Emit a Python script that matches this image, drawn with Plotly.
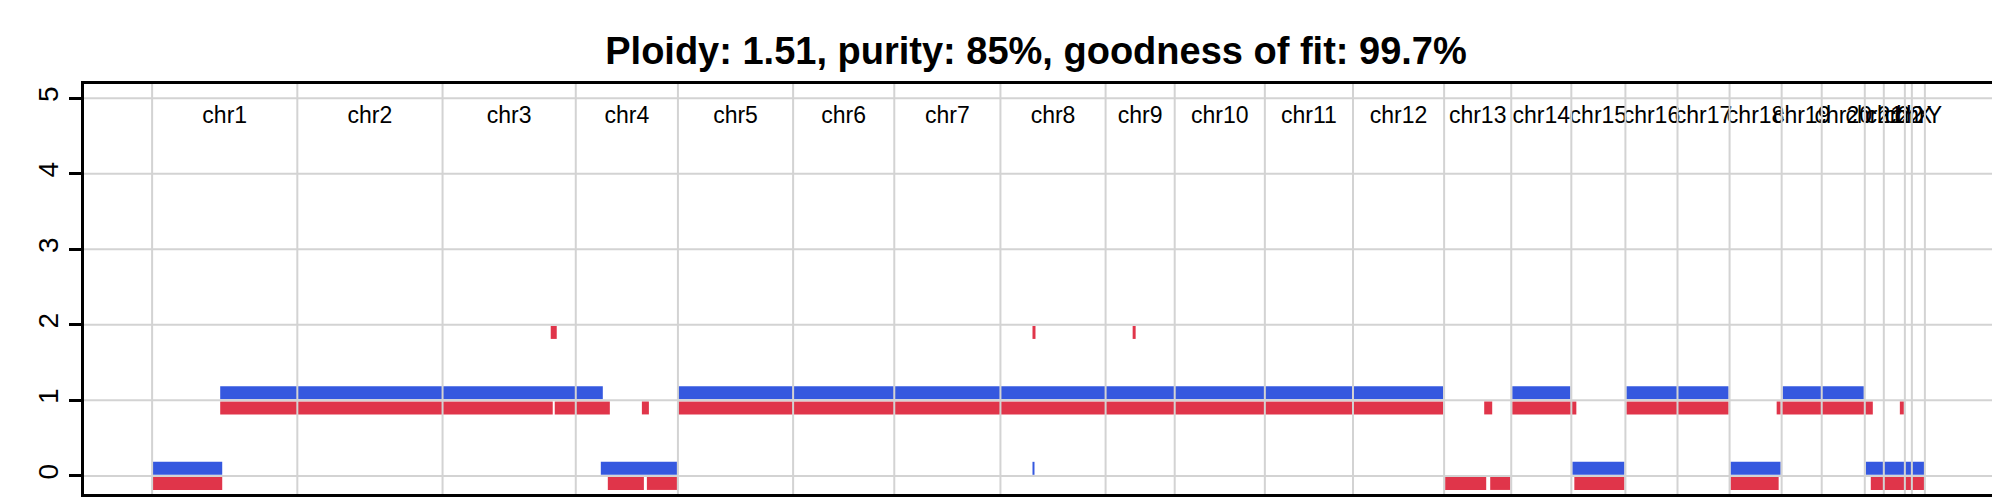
import plotly.graph_objects as go

chrom_names = ["chr1","chr2","chr3","chr4","chr5","chr6","chr7","chr8","chr9","chr10","chr11","chr12",
               "chr13","chr14","chr15","chr16","chr17","chr18","chr19","chr20","chr21","chr22","chrX","chrY"]
# chromosome boundaries (probe index units)
boundaries = [150, 295, 440, 573, 675, 790, 891, 997, 1102, 1171, 1261, 1349,
              1440, 1507, 1567, 1621, 1673, 1725, 1777, 1817, 1860, 1879, 1900, 1907, 1920]

# major allele (blue) segments
blue_start = [150, 218, 598, 675, 1029, 1508, 1568, 1622, 1726, 1778, 1861]
blue_end   = [220, 600, 674, 1439, 1031, 1566, 1620, 1724, 1776, 1859, 1920]
blue_cn    = [0, 1, 0, 1, 0, 1, 0, 1, 0, 1, 0]

# minor allele (red) segments
red_start = [150, 218, 552, 548, 639, 605, 644, 675, 1029, 1129, 1441, 1486, 1480, 1508, 1570, 1622, 1726, 1772, 1777, 1866, 1895]
red_end   = [220, 550, 607, 554, 646, 641, 674, 1439, 1032, 1132, 1482, 1506, 1488, 1572, 1620, 1724, 1774, 1776, 1868, 1920, 1899]
red_cn    = [0, 1, 1, 2, 1, 0, 0, 1, 2, 2, 0, 0, 1, 1, 0, 1, 0, 1, 1, 0, 1]

title = "Ploidy: 1.51, purity: 85%, goodness of fit: 99.7%"
y_ticks = [0, 1, 2, 3, 4, 5]

BLUE = "#3558df"
RED = "#e0354a"
GRID = "#d3d3d3"

def seg_xy(starts, ends, cns, offset):
    xs, ys = [], []
    for s, e, c in zip(starts, ends, cns):
        xs += [s, e, None]
        ys += [c + offset, c + offset, None]
    return xs, ys

fig = go.Figure()
bx, by = seg_xy(blue_start, blue_end, blue_cn, 0.1)
rx, ry = seg_xy(red_start, red_end, red_cn, -0.1)
fig.add_trace(go.Scatter(x=bx, y=by, mode="lines", line=dict(color=BLUE, width=13), hoverinfo="skip"))
fig.add_trace(go.Scatter(x=rx, y=ry, mode="lines", line=dict(color=RED, width=13), hoverinfo="skip"))

shapes = []
for b in boundaries:
    shapes.append(dict(type="line", xref="x", yref="paper", x0=b, x1=b, y0=0, y1=1,
                       line=dict(color=GRID, width=2), layer="above"))
for t in y_ticks:
    shapes.append(dict(type="line", xref="paper", yref="y", x0=0, x1=1, y0=t, y1=t,
                       line=dict(color=GRID, width=2), layer="above"))

mids = [(boundaries[i] + boundaries[i + 1]) / 2 for i in range(len(chrom_names))]
fig.add_trace(go.Scatter(x=mids, y=[4.75] * len(mids), mode="text", text=chrom_names,
                         textfont=dict(family="Liberation Sans, Arial", size=23, color="black"),
                         hoverinfo="skip"))

fig.update_layout(
    width=2000, height=500, showlegend=False,
    plot_bgcolor="white", paper_bgcolor="white",
    margin=dict(l=76, r=9, t=76, b=14),
    shapes=shapes,
    title=dict(text="<b>" + title + "</b>", x=0.514, xanchor="center", y=0.915, yanchor="middle",
               font=dict(family="Liberation Sans, Arial", size=38, color="black")),
    xaxis=dict(range=[82, 1991], showgrid=False, zeroline=False, showticklabels=False, ticks="",
               showline=True, linecolor="black", linewidth=3, mirror=True),
    yaxis=dict(range=[-0.24, 5.19], showgrid=False, zeroline=False, tickvals=y_ticks,
               ticks="outside", ticklen=12, tickwidth=3, tickcolor="black", tickangle=-90,
               tickfont=dict(family="Liberation Sans, Arial", size=28, color="black"),
               showline=True, linecolor="black", linewidth=3, mirror=True),
)
fig.write_html("out.html")
